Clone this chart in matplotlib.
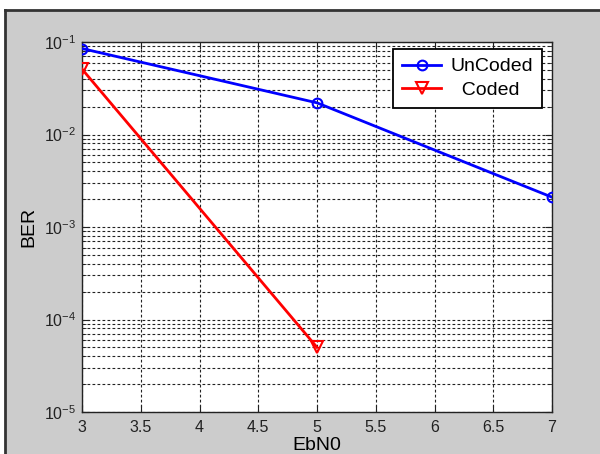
import numpy as np
import matplotlib
matplotlib.use("Agg")
import matplotlib.pyplot as plt
from matplotlib.patches import Rectangle
from matplotlib.lines import Line2D
from matplotlib.ticker import LogLocator, FixedLocator

plt.rcParams['font.family'] = ['Liberation Sans', 'DejaVu Sans']
plt.rcParams['mathtext.fontset'] = 'custom'
plt.rcParams['mathtext.rm'] = 'Liberation Sans'
plt.rcParams['mathtext.it'] = 'Liberation Sans'

# données
ebn0_uncoded = [3, 5, 7]
ber_uncoded = [0.085, 0.022, 0.0021]
ebn0_coded = [3, 5]
ber_coded = [0.051, 5.0e-5]

x_ticks = [3, 3.5, 4, 4.5, 5, 5.5, 6, 6.5, 7]
x_tick_labels = ['3', '3.5', '4', '4.5', '5', '5.5', '6', '6.5', '7']

W, H = 600, 454
fig = plt.figure(figsize=(W / 100, H / 100), dpi=100, facecolor='white')

# fond gris de la fenêtre MATLAB avec bord sombre
fig.add_artist(Rectangle((5 / W, 0), 1, (H - 10) / H, transform=fig.transFigure,
                         facecolor='#cccccc', edgecolor='none', zorder=-10))
fig.add_artist(Line2D([5 / W, 5 / W], [0, (H - 10) / H], transform=fig.transFigure,
                      color='#333333', lw=2))
fig.add_artist(Line2D([5 / W, 1], [(H - 10) / H, (H - 10) / H], transform=fig.transFigure,
                      color='#333333', lw=2))

ax = fig.add_axes([82 / W, (H - 412) / H, (552 - 82) / W, (412 - 42) / H])
ax.set_facecolor('white')

ax.semilogy(ebn0_uncoded, ber_uncoded, '-o', color='blue', lw=2,
            markersize=7, markerfacecolor='none', markeredgewidth=1.5,
            label='UnCoded', zorder=3)
ax.semilogy(ebn0_coded, ber_coded, '-v', color='red', lw=2,
            markersize=8, markerfacecolor='none', markeredgewidth=1.5,
            label='  Coded', zorder=3)

ax.set_xlim(3, 7)
ax.set_ylim(1e-5, 1e-1)
ax.xaxis.set_major_locator(FixedLocator(x_ticks))
ax.set_xticklabels(x_tick_labels)
ax.yaxis.set_major_locator(LogLocator(base=10, numticks=10))
ax.yaxis.set_minor_locator(LogLocator(base=10, subs=np.arange(2, 10), numticks=10))

grid_style = dict(color='#222222', linestyle=(0, (2.5, 2)), linewidth=0.8)
ax.grid(True, which='major', axis='both', **grid_style)
ax.grid(True, which='minor', axis='y', **grid_style)
ax.set_axisbelow(True)

ax.tick_params(which='both', direction='in', top=True, right=True,
               labelsize=11.5, colors='#222222', pad=6)
ax.tick_params(axis='y', pad=4)
ax.tick_params(which='major', length=5)
ax.tick_params(which='minor', length=3)
for s in ax.spines.values():
    s.set_color('#222222')
    s.set_linewidth(1.0)

ax.set_xlabel('EbN0', fontsize=14, labelpad=1)
ax.set_ylabel('BER', fontsize=14, labelpad=5)

leg = ax.legend(loc='upper right', bbox_to_anchor=(0.979, 0.981), borderaxespad=0,
                fontsize=14, fancybox=False, framealpha=1, edgecolor='black',
                handlelength=2.0, borderpad=0.45, labelspacing=0.3, handletextpad=0.5)
leg.get_frame().set_linewidth(1.3)

fig.savefig('out.png', dpi=100, facecolor=fig.get_facecolor())
